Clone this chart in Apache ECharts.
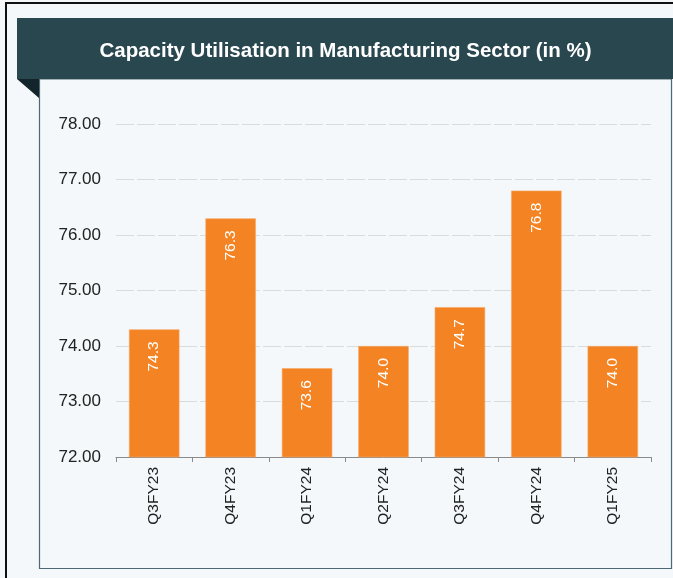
<!DOCTYPE html>
<html>
<head>
<meta charset="utf-8">
<script src="https://cdn.jsdelivr.net/npm/echarts@6/dist/echarts.min.js"></script>
<style>
html,body{margin:0;padding:0;background:#f4f8fa;}
#c{width:673px;height:578px;}
</style>
</head>
<body>
<div id="c"></div>
<script>
var categories = ['Q3FY23','Q4FY23','Q1FY24','Q2FY24','Q3FY24','Q4FY24','Q1FY25'];
var values = [74.3, 76.3, 73.6, 74.0, 74.7, 76.8, 74.0];
var yTicks = [72, 73, 74, 75, 76, 77, 78];
var titleText = 'Capacity Utilisation in Manufacturing Sector (in %)';

var FONT = 'Arial, "Liberation Sans", sans-serif';
var chart = echarts.init(document.getElementById('c'), null, {renderer:'canvas'});
chart.setOption({
  backgroundColor: '#f4f8fa',
  animation: false,
  graphic: [
    {type:'rect', z:-10, shape:{x:6, y:3, width:700, height:600}, style:{fill:'none', stroke:'#111', lineWidth:2}},
    {type:'rect', z:-9, shape:{x:39.5, y:79, width:632, height:489.5}, style:{fill:'#f4f8fa', stroke:'#4d6a72', lineWidth:1.2}},
    {type:'rect', z:-8, shape:{x:17, y:18, width:660, height:61}, style:{fill:'#29474f'}},
    {type:'polygon', z:-8, shape:{points:[[17,79],[39,79],[39,98]]}, style:{fill:'#13252a'}},
    {type:'text', z:10, x:345.5, y:51, style:{text:titleText, fill:'#ffffff', font:'bold 20.5px ' + FONT, textAlign:'center', textVerticalAlign:'middle'}}
  ],
  grid: {left:116, right:22, top:124, bottom:121, containLabel:false},
  xAxis: {
    type:'category',
    data: categories,
    boundaryGap: true,
    axisLine: {lineStyle:{color:'#8a8a8a', width:1}},
    axisTick: {show:true, length:5, lineStyle:{color:'#8a8a8a'}},
    axisLabel: {rotate:90, margin:10, color:'#222', fontSize:15.5, fontFamily:FONT}
  },
  yAxis: {
    type:'value',
    min: yTicks[0],
    max: yTicks[yTicks.length-1],
    interval: 1,
    axisLine: {show:false},
    axisTick: {show:false},
    axisLabel: {margin:15, color:'#222', fontSize:17, fontFamily:FONT, formatter:function(v){return v.toFixed(2);}},
    splitLine: {show:true, lineStyle:{color:'#d9dcdd', type:[18,3], width:1}}
  },
  series: [{
    type:'bar',
    data: values,
    barWidth:'66%',
    itemStyle:{color:'#f48423', borderColor:'#f7a868', borderWidth:0.6},
    label:{
      show:true,
      position:'insideTop',
      rotate:90,
      align:'right',
      verticalAlign:'middle',
      distance:12,
      color:'#ffffff',
      fontSize:15.5,
      fontFamily:FONT,
      formatter:function(p){return p.value.toFixed(1);}
    }
  }]
});
</script>
</body>
</html>
